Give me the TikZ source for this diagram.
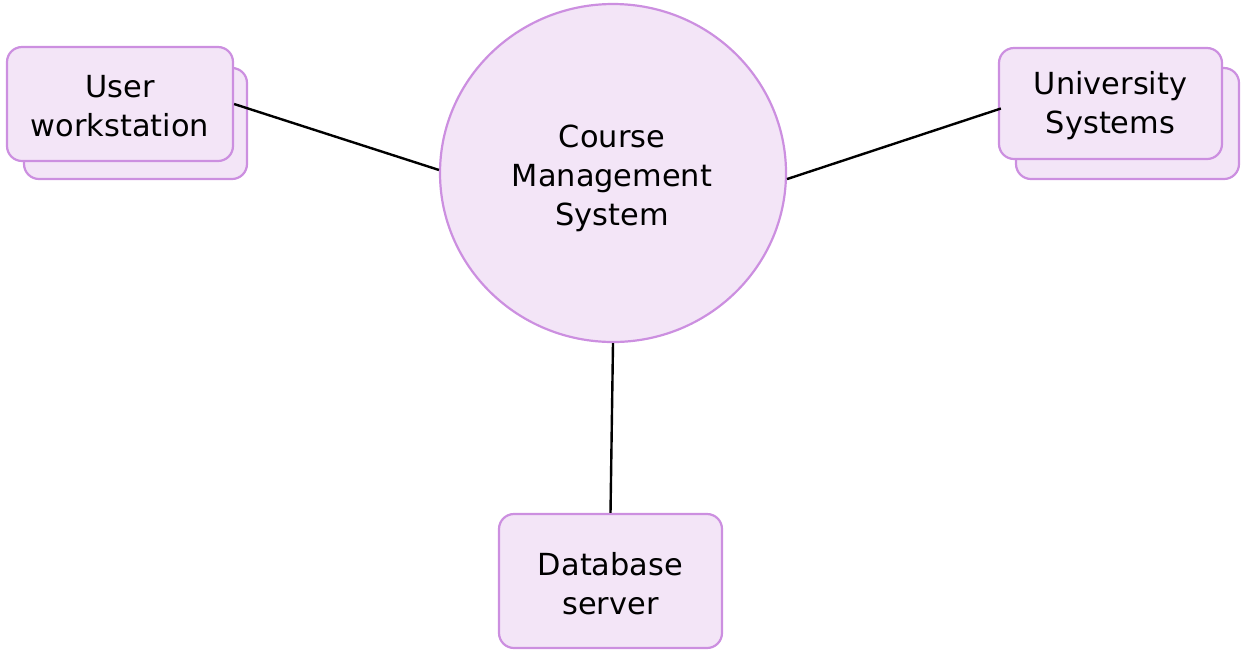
\documentclass[tikz,border=0pt]{standalone}
\usepackage{fontspec}
\setmainfont{DejaVu Sans}
\usetikzlibrary{shapes.geometric,calc}
\definecolor{boxfill}{HTML}{F3E5F7}
\definecolor{boxline}{HTML}{CC8FE0}
\tikzset{
  every node/.style={font=\fontsize{15.2}{19.5}\selectfont, text=black},
  card/.style={draw=boxline, fill=boxfill, line width=1.1pt, rounded corners=7.5pt, inner sep=0pt},
  hub/.style={draw=boxline, fill=boxfill, line width=1.1pt, ellipse, inner sep=0pt},
  label/.style={align=center, inner sep=0pt},
  link/.style={draw=black, line width=1.2pt}
}
\begin{document}
\begin{tikzpicture}[x=0.5pt,y=-0.5pt]
\useasboundingbox (0,0) rectangle (1247,655);
% user workstation
\node[card, minimum width=111.5pt, minimum height=55.5pt] (uwback) at (135.5,123.5) {};
\node[card, minimum width=113pt, minimum height=57pt] (uw) at (120,104) {};
\node[label] (uwtext) at (120,106.5) {User\\workstation};
% university systems
\node[card, minimum width=111.5pt, minimum height=55.5pt] (usback) at (1127.5,123.5) {};
\node[card, minimum width=111.5pt, minimum height=55.5pt] (us) at (1110.5,103.5) {};
\node[label] (ustext) at (1110.5,106) {University\\Systems};
% database
\node[card, minimum width=111.5pt, minimum height=67pt] (db) at (610.5,581) {};
\node[label] (dbtext) at (610.5,584) {Database\\server};
% hub
\node[hub, minimum width=173pt, minimum height=169pt] (cms) at (613,173) {};
\node[label] (cmstext) at (612,178) {Course\\Management\\System};
% links
\draw[link] (uw.east) -- (cms.179);
\draw[link] ($(us.west)+(3,5)$) -- (cms.-2.4);
\draw[link] (cms.south) -- (db.north);
\end{tikzpicture}
\end{document}
